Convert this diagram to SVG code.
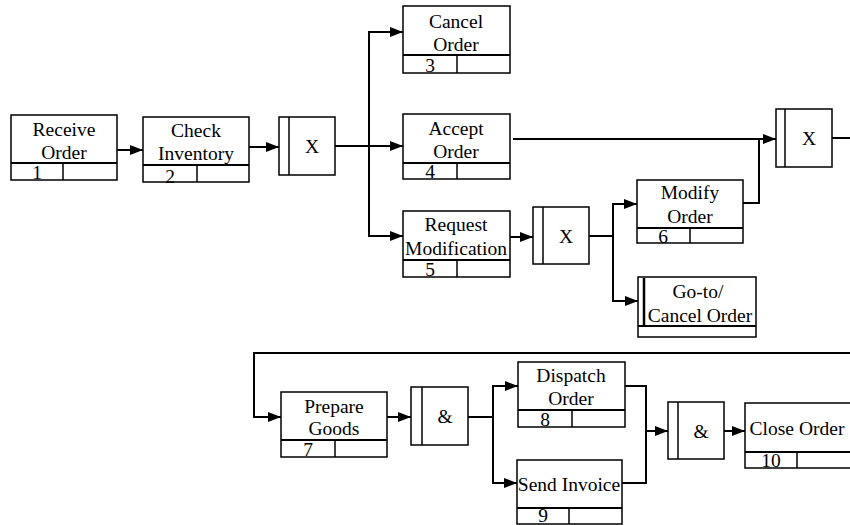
<svg xmlns="http://www.w3.org/2000/svg" width="850" height="525" viewBox="0 0 850 525">
<style>
.box{fill:#fff;stroke:#000;stroke-width:1.5}
.sep{stroke:#000;stroke-width:2}
.div{stroke:#000;stroke-width:1.5}
.t{font-family:'Liberation Serif','DejaVu Serif',serif;font-size:19.5px;fill:#000;text-anchor:middle}
.c{fill:none;stroke:#000;stroke-width:2}
.bar{stroke:#000;stroke-width:2.5}
</style>
<defs>
<marker id="arr" markerWidth="13" markerHeight="10" refX="13" refY="5" orient="auto" markerUnits="userSpaceOnUse">
<path d="M0,0 L13,5 L0,10 z" fill="#000"/>
</marker>
</defs>
<rect width="850" height="525" fill="#fff"/>

<g id="connectors">
<path class="c" d="M117,150 H143" marker-end="url(#arr)"/>
<path class="c" d="M249,147 H279" marker-end="url(#arr)"/>
<path class="c" d="M335,146 H403" marker-end="url(#arr)"/>
<path class="c" d="M369,146 V32 H403" marker-end="url(#arr)"/>
<path class="c" d="M369,146 V236 H403" marker-end="url(#arr)"/>
<path class="c" d="M510,237 H533" marker-end="url(#arr)"/>
<path class="c" d="M589,236 H613 V204 H637" marker-end="url(#arr)"/>
<path class="c" d="M613,236 V301 H638" marker-end="url(#arr)"/>
<path class="c" d="M513,139 H776" marker-end="url(#arr)"/>
<path class="c" d="M743,203 H759 V139"/>
<path class="c" d="M832,138 H850"/>
<path class="c" d="M850,353 H254 V417 H281" marker-end="url(#arr)"/>
<path class="c" d="M387,417 H411" marker-end="url(#arr)"/>
<path class="c" d="M468,417 H493 V386 H518" marker-end="url(#arr)"/>
<path class="c" d="M493,417 V483 H517" marker-end="url(#arr)"/>
<path class="c" d="M625,386 H646 V431 H668" marker-end="url(#arr)"/>
<path class="c" d="M622,483 H646 V431"/>
<path class="c" d="M724,431 H745" marker-end="url(#arr)"/>
</g>

<g id="task1">
<rect class="box" x="11" y="115" width="106" height="65"/>
<line class="sep" x1="11" y1="163" x2="117" y2="163"/>
<line class="div" x1="63" y1="163" x2="63" y2="180"/>
<text class="t" x="64" y="136">Receive</text>
<text class="t" x="64" y="159">Order</text>
<text class="t" x="37" y="179">1</text>
</g>

<g id="task2">
<rect class="box" x="143" y="117" width="106" height="65"/>
<line class="sep" x1="143" y1="165" x2="249" y2="165"/>
<line class="div" x1="197" y1="165" x2="197" y2="182"/>
<text class="t" x="196" y="137">Check</text>
<text class="t" x="196" y="160">Inventory</text>
<text class="t" x="170" y="183">2</text>
</g>

<g id="gw1">
<rect class="box" x="279" y="117" width="56" height="58"/>
<line class="div" x1="289" y1="117" x2="289" y2="175"/>
<text class="t" x="312" y="153">X</text>
</g>

<g id="task3">
<rect class="box" x="403" y="6" width="107" height="67"/>
<line class="sep" x1="403" y1="55" x2="510" y2="55"/>
<line class="div" x1="457" y1="55" x2="457" y2="73"/>
<text class="t" x="456" y="28">Cancel</text>
<text class="t" x="456" y="51">Order</text>
<text class="t" x="430" y="72">3</text>
</g>

<g id="task4">
<rect class="box" x="403" y="114" width="107" height="65"/>
<line class="sep" x1="403" y1="163" x2="510" y2="163"/>
<line class="div" x1="457" y1="163" x2="457" y2="179"/>
<text class="t" x="456" y="135">Accept</text>
<text class="t" x="456" y="158">Order</text>
<text class="t" x="430" y="178">4</text>
</g>

<g id="task5">
<rect class="box" x="403" y="211" width="107" height="66"/>
<line class="sep" x1="403" y1="260" x2="510" y2="260"/>
<line class="div" x1="457" y1="260" x2="457" y2="277"/>
<text class="t" x="456" y="231">Request</text>
<text class="t" x="456" y="255">Modification</text>
<text class="t" x="430" y="276">5</text>
</g>

<g id="gw2">
<rect class="box" x="533" y="207" width="56" height="57"/>
<line class="div" x1="543" y1="207" x2="543" y2="264"/>
<text class="t" x="566" y="243">X</text>
</g>

<g id="task6">
<rect class="box" x="637" y="180" width="106" height="63"/>
<line class="sep" x1="637" y1="228" x2="743" y2="228"/>
<line class="div" x1="690" y1="228" x2="690" y2="243"/>
<text class="t" x="690" y="199">Modify</text>
<text class="t" x="690" y="223">Order</text>
<text class="t" x="663" y="243">6</text>
</g>

<g id="goto">
<rect class="box" x="638" y="277" width="118" height="60"/>
<line class="sep" x1="638" y1="326" x2="756" y2="326"/>
<line class="bar" x1="644" y1="278" x2="644" y2="325"/>
<text class="t" x="698" y="298">Go-to/</text>
<text class="t" x="700" y="322">Cancel Order</text>
</g>

<g id="gw3">
<rect class="box" x="776" y="109" width="56" height="58"/>
<line class="div" x1="785" y1="109" x2="785" y2="167"/>
<text class="t" x="809" y="145">X</text>
</g>

<g id="task7">
<rect class="box" x="281" y="392" width="106" height="65"/>
<line class="sep" x1="281" y1="440" x2="387" y2="440"/>
<line class="div" x1="335" y1="440" x2="335" y2="457"/>
<text class="t" x="334" y="413">Prepare</text>
<text class="t" x="334" y="435">Goods</text>
<text class="t" x="308" y="456">7</text>
</g>

<g id="gw4">
<rect class="box" x="411" y="387" width="57" height="58"/>
<line class="div" x1="422" y1="387" x2="422" y2="445"/>
<text class="t" x="445" y="423">&amp;</text>
</g>

<g id="task8">
<rect class="box" x="518" y="362" width="107" height="65"/>
<line class="sep" x1="518" y1="410" x2="625" y2="410"/>
<line class="div" x1="572" y1="410" x2="572" y2="427"/>
<text class="t" x="571" y="382">Dispatch</text>
<text class="t" x="571" y="405">Order</text>
<text class="t" x="545" y="426">8</text>
</g>

<g id="task9">
<rect class="box" x="517" y="460" width="105" height="64"/>
<line class="sep" x1="517" y1="508" x2="622" y2="508"/>
<line class="div" x1="569" y1="508" x2="569" y2="524"/>
<text class="t" x="569" y="491">Send Invoice</text>
<text class="t" x="543" y="522">9</text>
</g>

<g id="gw5">
<rect class="box" x="668" y="402" width="56" height="57"/>
<line class="div" x1="678" y1="402" x2="678" y2="459"/>
<text class="t" x="701" y="438">&amp;</text>
</g>

<g id="task10">
<rect class="box" x="745" y="403" width="106" height="65"/>
<line class="sep" x1="745" y1="452" x2="851" y2="452"/>
<line class="div" x1="797" y1="452" x2="797" y2="468"/>
<text class="t" x="797" y="435">Close Order</text>
<text class="t" x="771" y="467">10</text>
</g>
</svg>
